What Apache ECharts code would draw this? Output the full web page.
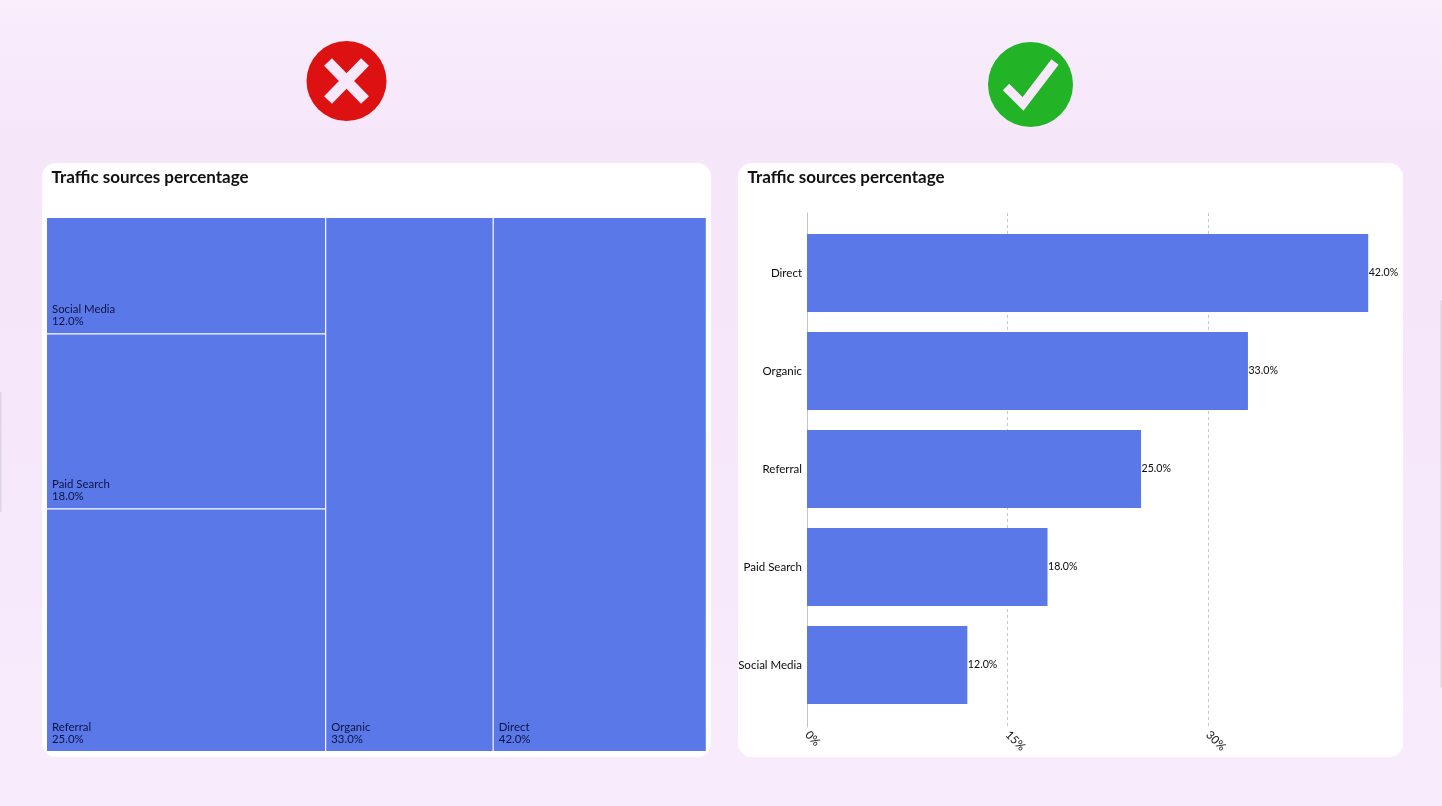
<!DOCTYPE html>
<html><head><meta charset="utf-8">
<script src="https://cdn.jsdelivr.net/npm/echarts@6/dist/echarts.min.js"></script>
<style>html,body{margin:0;padding:0;width:1442px;height:806px;overflow:hidden}#c{width:1442px;height:806px}</style>
</head><body><div id="c"></div>
<script>
const titleText = 'Traffic sources percentage';
const categories = ['Social Media', 'Paid Search', 'Referral', 'Organic', 'Direct'];
const shares = [12, 18, 25, 33, 42];
const stackedColumn = ['Social Media', 'Paid Search', 'Referral'];
const tickValues = [0, 15, 30];

const FONT = 'Lato, "Open Sans", sans-serif';
const BLUE = '#5b78e8';
const INK = '#0c1440';
const fmt = v => v.toFixed(1) + '%';

const share = n => shares[categories.indexOf(n)];
const total = shares.reduce((a, b) => a + b, 0);
const stackSum = stackedColumn.reduce((a, n) => a + share(n), 0);

// treemap box in the left card
const MAP = {x: 47, y: 218, w: 660, h: 533};
const GAP = 1.2;
function treemap(left, width, names) {
  return {
    type: 'treemap', left, top: MAP.y, width: width - GAP, height: MAP.h,
    roam: false, nodeClick: false, silent: true, sort: false, squareRatio: 0.3,
    breadcrumb: {show: false},
    itemStyle: {color: BLUE, borderColor: '#fff', borderWidth: 0, gapWidth: GAP},
    levels: [{itemStyle: {gapWidth: GAP, borderWidth: 0, color: BLUE}}],
    label: {
      show: true, position: 'insideBottomLeft', distance: 5, padding: [0, 0, 1, 0],
      color: INK, fontFamily: FONT, fontSize: 11.4, lineHeight: 12,
      formatter: p => p.name + '\n' + fmt(p.value)
    },
    data: names.map(n => ({name: n, value: share(n)}))
  };
}
const stackW = MAP.w * stackSum / total;
const orgW = MAP.w * share('Organic') / total;
const dirW = MAP.w * share('Direct') / total;

const barCats = categories.slice();
const barVals = shares.slice();
const axisMax = Math.max(...shares);
const PLOT = {left: 807, width: 561.2};

const chart = echarts.init(document.getElementById('c'), null, {renderer: 'canvas'});
chart.setOption({
  animation: false,
  textStyle: {fontFamily: FONT},
  backgroundColor: {
    type: 'linear', x: 0, y: 0, x2: 0, y2: 1,
    colorStops: [
      {offset: 0, color: '#f8eefc'}, {offset: 0.18, color: '#f6e6fa'},
      {offset: 0.5, color: '#f6e7fb'}, {offset: 1, color: '#f8ecfc'}
    ]
  },
  title: [
    {text: titleText, left: 51.5, top: 169, padding: 0, textStyle: {fontFamily: FONT, fontSize: 17, fontWeight: 700, color: '#111'}},
    {text: titleText, left: 747.5, top: 169, padding: 0, textStyle: {fontFamily: FONT, fontSize: 17, fontWeight: 700, color: '#111'}}
  ],
  graphic: [
    {type: 'rect', silent: true, z: -5, shape: {x: 42, y: 163, width: 669, height: 594, r: 14}, style: {fill: '#fff'}},
    {type: 'rect', silent: true, z: -5, shape: {x: 738, y: 163, width: 665, height: 594, r: 14}, style: {fill: '#fff'}},
    {type: 'rect', silent: true, z: -5, shape: {x: 0, y: 392, width: 1.5, height: 120, r: 1}, style: {fill: '#ddd6e2'}},
    {type: 'rect', silent: true, z: -5, shape: {x: 1440.5, y: 300, width: 1.5, height: 388, r: 1}, style: {fill: '#ddd6e2'}},
    {type: 'circle', silent: true, shape: {cx: 346.5, cy: 81, r: 40}, style: {fill: '#dd1111'}},
    {type: 'polyline', silent: true, shape: {points: [[328, 62], [365, 100]]}, style: {stroke: '#f7e9fb', lineWidth: 11, fill: null}},
    {type: 'polyline', silent: true, shape: {points: [[365, 62], [328, 100]]}, style: {stroke: '#f7e9fb', lineWidth: 11, fill: null}},
    {type: 'circle', silent: true, shape: {cx: 1030.5, cy: 84.5, r: 42.5}, style: {fill: '#22b326'}},
    {type: 'polyline', silent: true, shape: {points: [[1006, 87], [1023, 104], [1055, 62]]}, style: {stroke: '#f7e9fb', lineWidth: 9, fill: null}}
  ],
  grid: [
    {left: PLOT.left, width: PLOT.width, top: 224, height: 490, containLabel: false},
    {left: PLOT.left, width: PLOT.width, top: 213, height: 514, containLabel: false}
  ],
  xAxis: [
    {gridIndex: 0, type: 'value', min: 0, max: axisMax, show: false},
    {
      gridIndex: 1, type: 'value', min: 0, max: axisMax, interval: tickValues[1],
      axisLine: {show: false}, axisTick: {show: false},
      axisLabel: {show: true, rotate: -45, showMaxLabel: false, color: '#111', fontFamily: FONT, fontSize: 11.5, margin: 6, formatter: '{value}%'},
      splitLine: {show: true, showMaxLine: false, showMinLine: false, lineStyle: {color: '#c8c8c8', type: [3, 3], width: 1}}
    }
  ],
  yAxis: [
    {
      gridIndex: 0, type: 'category', inverse: true, data: barCats.slice().reverse(),
      axisLine: {show: false}, axisTick: {show: false}, splitLine: {show: false},
      axisLabel: {color: '#0a0a0a', fontFamily: FONT, fontSize: 11.5, margin: 5}
    },
    {
      gridIndex: 1, type: 'value', min: 0, max: 1, axisTick: {show: false}, splitLine: {show: false},
      axisLabel: {show: false},
      axisLine: {show: true, onZero: false, lineStyle: {color: '#c4c4c4', width: 1}}
    }
  ],
  series: [
    treemap(MAP.x, stackW, stackedColumn),
    treemap(MAP.x + stackW, orgW, ['Organic']),
    treemap(MAP.x + stackW + orgW, dirW, ['Direct']),
    {
      type: 'bar', xAxisIndex: 0, yAxisIndex: 0, barWidth: 78, silent: true,
      data: barVals.slice().reverse(),
      itemStyle: {color: BLUE},
      label: {show: true, position: 'right', distance: 0.5, offset: [0, -0.5], color: '#0a0a0a', fontFamily: FONT, fontSize: 10.6, formatter: p => fmt(p.value)}
    }
  ]
});
</script></body></html>
